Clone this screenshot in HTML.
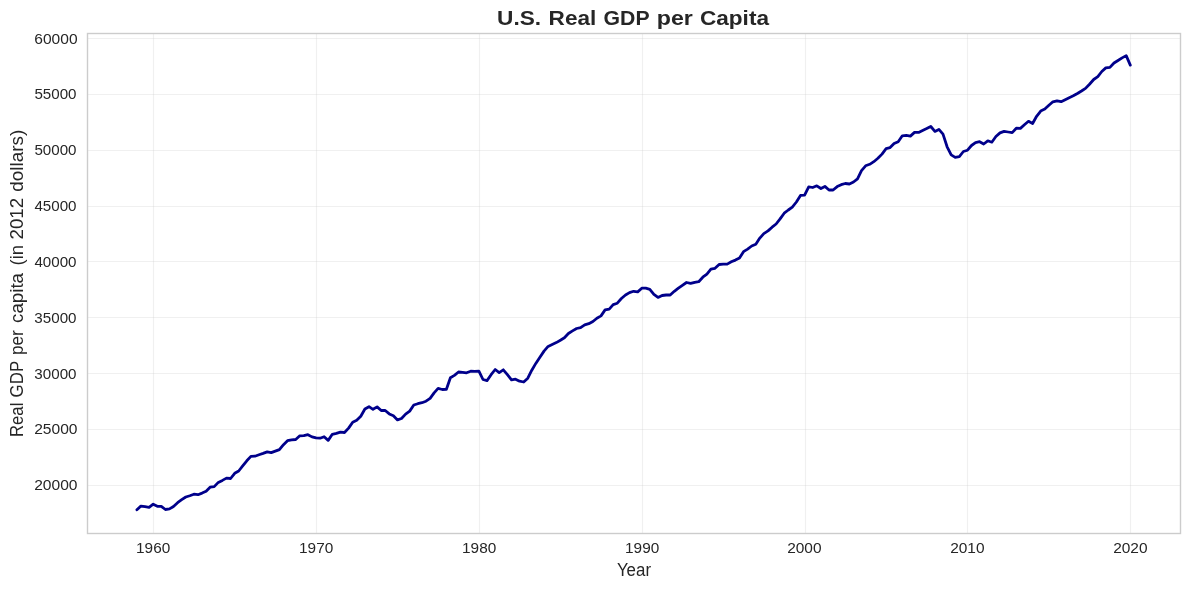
<!DOCTYPE html>
<html lang="en">
<head>
<meta charset="utf-8">
<title>U.S. Real GDP per Capita</title>
<style>
html,body{margin:0;padding:0;background:#ffffff;}
body{width:1189px;height:590px;overflow:hidden;}
svg{display:block;}
text{font-family:"Liberation Sans",sans-serif;fill:#262626;}
.tick{font-size:14.1px;}
.lab{font-size:17.5px;}
.title{font-size:20.2px;font-weight:bold;}
</style>
</head>
<body>
<svg width="1189" height="590" viewBox="0 0 1189 590">
<rect x="0" y="0" width="1189" height="590" fill="#ffffff"/>

<g stroke="#cccccc" stroke-opacity="0.3" stroke-width="1.11" fill="none">
<line x1="153.5" y1="33.5" x2="153.5" y2="533.5"/>
<line x1="316.5" y1="33.5" x2="316.5" y2="533.5"/>
<line x1="479.5" y1="33.5" x2="479.5" y2="533.5"/>
<line x1="642.5" y1="33.5" x2="642.5" y2="533.5"/>
<line x1="805.5" y1="33.5" x2="805.5" y2="533.5"/>
<line x1="967.5" y1="33.5" x2="967.5" y2="533.5"/>
<line x1="1130.5" y1="33.5" x2="1130.5" y2="533.5"/>
<line x1="87.5" y1="38.5" x2="1180.5" y2="38.5"/>
<line x1="87.5" y1="94.5" x2="1180.5" y2="94.5"/>
<line x1="87.5" y1="150.5" x2="1180.5" y2="150.5"/>
<line x1="87.5" y1="206.5" x2="1180.5" y2="206.5"/>
<line x1="87.5" y1="261.5" x2="1180.5" y2="261.5"/>
<line x1="87.5" y1="317.5" x2="1180.5" y2="317.5"/>
<line x1="87.5" y1="373.5" x2="1180.5" y2="373.5"/>
<line x1="87.5" y1="429.5" x2="1180.5" y2="429.5"/>
<line x1="87.5" y1="485.5" x2="1180.5" y2="485.5"/>
</g>
<polyline points="136.9,509.8 140.9,506.1 145.0,506.7 149.1,507.4 153.2,504.2 157.3,506.3 161.3,506.3 165.4,509.5 169.5,508.9 173.5,506.5 177.6,502.7 181.7,499.7 185.8,497.0 189.8,495.7 193.9,494.2 198.0,494.7 202.1,493.1 206.1,491.3 210.1,487.2 214.2,486.6 218.3,482.4 222.4,480.4 226.5,478.1 230.6,478.5 234.7,473.3 238.7,471.0 242.7,465.9 246.8,460.8 250.9,456.4 254.9,456.2 259.0,454.7 263.1,453.4 267.2,451.9 271.2,452.6 275.3,451.1 279.4,449.6 283.5,444.7 287.5,440.7 291.6,439.9 295.7,439.5 299.8,435.8 303.8,435.6 307.9,434.7 312.0,436.9 316.1,437.9 320.1,438.2 324.1,436.7 328.2,440.4 332.3,434.3 336.4,433.4 340.4,432.2 344.5,432.5 348.6,428.1 352.7,422.2 356.7,420.2 360.8,416.2 364.9,409.0 369.0,406.7 373.0,409.3 377.1,406.9 381.2,410.5 385.2,410.5 389.3,413.9 393.4,415.8 397.5,419.9 401.5,418.5 405.6,414.1 409.7,411.1 413.8,405.0 417.8,403.7 421.9,402.7 426.0,401.2 430.1,398.4 434.1,392.9 438.1,388.4 442.3,389.5 446.4,389.3 450.4,377.7 454.4,375.4 458.5,372.0 462.6,372.3 466.6,372.8 470.7,371.2 474.8,371.3 478.9,371.1 483.0,379.5 487.0,380.6 491.1,374.7 495.2,369.5 499.2,372.6 503.3,369.8 507.4,374.7 511.5,379.9 515.5,379.2 519.6,381.2 523.7,382.0 527.8,378.2 531.8,370.2 535.8,363.4 539.9,357.2 544.0,351.1 548.1,346.4 552.2,344.5 556.3,342.6 560.4,340.2 564.4,337.8 568.4,333.5 572.5,330.9 576.6,328.5 580.6,327.7 584.7,324.9 588.8,323.7 592.9,321.5 596.9,318.2 601.0,315.9 605.1,309.9 609.2,309.1 613.2,304.6 617.3,303.2 621.4,298.5 625.5,295.0 629.5,292.6 633.6,291.3 637.7,291.9 641.8,288.2 645.8,288.1 649.8,289.3 653.9,294.4 658.0,297.4 662.1,295.5 666.1,295.0 670.2,295.0 674.3,291.3 678.4,288.1 682.4,285.3 686.5,282.5 690.6,283.4 694.7,282.3 698.7,281.7 702.8,277.2 706.9,274.1 710.9,269.2 715.0,268.3 719.1,264.5 723.2,264.1 727.2,264.1 731.3,261.8 735.4,260.1 739.5,258.0 743.5,251.7 747.6,249.1 751.7,246.0 755.8,244.2 759.8,238.1 763.8,233.6 768.0,230.9 772.1,227.2 776.1,224.0 780.1,218.9 784.2,213.2 788.3,210.0 792.3,207.1 796.4,202.0 800.5,195.4 804.6,195.1 808.7,186.8 812.7,187.5 816.8,185.8 820.9,188.5 824.9,186.4 829.0,190.0 833.1,190.0 837.2,186.6 841.2,184.7 845.3,183.5 849.4,184.0 853.5,182.0 857.5,178.8 861.5,170.6 865.6,165.8 869.7,164.3 873.8,161.7 877.9,158.3 882.0,154.1 886.1,148.6 890.1,147.6 894.1,143.6 898.2,141.7 902.3,135.8 906.3,135.4 910.4,136.1 914.5,132.4 918.6,132.4 922.6,130.5 926.7,128.6 930.8,126.5 934.9,131.4 938.9,129.4 943.0,134.1 947.1,146.8 951.2,154.9 955.2,157.4 959.3,156.6 963.4,151.5 967.5,150.2 971.5,145.5 975.5,142.7 979.6,141.7 983.7,144.0 987.8,140.8 991.8,142.2 995.9,136.5 1000.0,132.9 1004.1,131.4 1008.1,132.0 1012.2,132.6 1016.3,128.2 1020.4,128.4 1024.4,124.8 1028.5,121.3 1032.6,123.5 1036.6,116.3 1040.7,111.1 1044.8,109.1 1048.9,105.3 1052.9,101.8 1057.0,100.8 1061.1,101.7 1065.2,99.7 1069.2,97.7 1073.3,95.8 1077.4,93.5 1081.5,91.0 1085.5,88.4 1089.5,84.2 1093.7,79.5 1097.8,76.6 1101.8,71.5 1105.8,67.9 1109.9,67.4 1114.0,63.0 1118.0,60.5 1122.1,57.9 1126.2,55.6 1130.3,65.1" fill="none" stroke="#00008b" stroke-width="2.78" stroke-linejoin="round" stroke-linecap="round"/>
<rect x="87.5" y="33.5" width="1093.0" height="500.0" fill="none" stroke="#cccccc" stroke-width="1.39"/>
<g opacity="0.999">
<text class="tick" x="136.08" y="553.00" textLength="34.17" lengthAdjust="spacingAndGlyphs">1960</text>
<text class="tick" x="299.08" y="553.00" textLength="34.17" lengthAdjust="spacingAndGlyphs">1970</text>
<text class="tick" x="462.08" y="553.00" textLength="34.17" lengthAdjust="spacingAndGlyphs">1980</text>
<text class="tick" x="625.08" y="553.00" textLength="34.17" lengthAdjust="spacingAndGlyphs">1990</text>
<text class="tick" x="787.17" y="553.00" textLength="34.38" lengthAdjust="spacingAndGlyphs">2000</text>
<text class="tick" x="950.17" y="553.00" textLength="34.38" lengthAdjust="spacingAndGlyphs">2010</text>
<text class="tick" x="1113.17" y="553.00" textLength="34.38" lengthAdjust="spacingAndGlyphs">2020</text>
<text class="tick" x="34.26" y="44.30" textLength="43.30" lengthAdjust="spacingAndGlyphs">60000</text>
<text class="tick" x="34.44" y="99.30" textLength="42.10" lengthAdjust="spacingAndGlyphs">55000</text>
<text class="tick" x="34.44" y="155.30" textLength="42.10" lengthAdjust="spacingAndGlyphs">50000</text>
<text class="tick" x="34.40" y="211.30" textLength="42.14" lengthAdjust="spacingAndGlyphs">45000</text>
<text class="tick" x="34.40" y="267.30" textLength="42.14" lengthAdjust="spacingAndGlyphs">40000</text>
<text class="tick" x="34.37" y="323.30" textLength="42.17" lengthAdjust="spacingAndGlyphs">35000</text>
<text class="tick" x="34.37" y="379.30" textLength="42.17" lengthAdjust="spacingAndGlyphs">30000</text>
<text class="tick" x="34.17" y="434.30" textLength="43.39" lengthAdjust="spacingAndGlyphs">25000</text>
<text class="tick" x="34.17" y="490.30" textLength="43.39" lengthAdjust="spacingAndGlyphs">20000</text>
<text class="lab" x="616.90" y="575.80" textLength="34.12" lengthAdjust="spacingAndGlyphs">Year</text>
<text class="lab" transform="translate(22.7,436) rotate(-90)"><tspan x="-1.02" textLength="34.39" lengthAdjust="spacingAndGlyphs">Real</tspan> <tspan x="38.61" textLength="36.22" lengthAdjust="spacingAndGlyphs">GDP</tspan> <tspan x="80.94" textLength="24.90" lengthAdjust="spacingAndGlyphs">per</tspan> <tspan x="113.05" textLength="50.00" lengthAdjust="spacingAndGlyphs">capita</tspan> <tspan x="170.50" textLength="20.55" lengthAdjust="spacingAndGlyphs">(in</tspan> <tspan x="196.51" textLength="41.68" lengthAdjust="spacingAndGlyphs">2012</tspan> <tspan x="244.26" textLength="61.97" lengthAdjust="spacingAndGlyphs">dollars)</tspan></text>
<text class="title" y="25.0"><tspan x="497.09" textLength="44.02" lengthAdjust="spacingAndGlyphs">U.S.</tspan> <tspan x="548.64" textLength="47.71" lengthAdjust="spacingAndGlyphs">Real</tspan> <tspan x="603.59" textLength="45.58" lengthAdjust="spacingAndGlyphs">GDP</tspan> <tspan x="656.72" textLength="36.08" lengthAdjust="spacingAndGlyphs">per</tspan> <tspan x="699.92" textLength="69.08" lengthAdjust="spacingAndGlyphs">Capita</tspan></text>
</g>
</svg>
</body>
</html>
